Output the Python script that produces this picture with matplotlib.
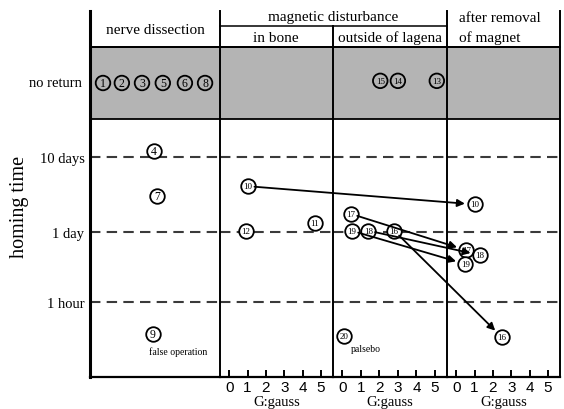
"""
Homing time of birds after nerve dissection / magnetic disturbance.
"""

import numpy as np
import matplotlib
matplotlib.use('Agg')
import matplotlib.pyplot as plt
from matplotlib.patches import ConnectionPatch
from matplotlib.lines import Line2D
from matplotlib.ticker import NullLocator

SERIF = 'Liberation Serif'
SANS = 'Liberation Sans'

# nerve dissection (no gauss scale, x is position inside the panel)
nr_nerve_ids = [1, 2, 3, 5, 6, 8]
nr_nerve_x = [0.10, 0.245, 0.40, 0.56, 0.73, 0.885]
nerve_ids = [4, 7, 9]
nerve_x = [0.49, 0.515, 0.485]
nerve_hours = [290, 72, 0.23]

# magnetic disturbance in bone
bone_ids = [10, 12, 11]
bone_gauss = [1.0, 0.9, 4.65]
bone_hours = [98, 25, 32]

# magnetic disturbance outside of lagena
lagena_ids = [17, 19, 18, 16, 20]
lagena_gauss = [0.45, 0.5, 1.4, 2.8, 0.1]
lagena_hours = [42, 25, 25, 25, 0.21]
nr_lagena_ids = [15, 14, 13]
nr_lagena_gauss = [2.05, 3.0, 5.1]

# after removal of magnet
after_ids = [10, 17, 18, 19, 16]
after_gauss = [1.0, 0.55, 1.3, 0.5, 2.5]
after_hours = [56, 10.5, 8.4, 5.6, 0.2]

time_ticks = [240, 24, 1]
time_labels = ['10 days', '1 day', '1 hour']
gauss_ticks = [0, 1, 2, 3, 4, 5]

LOG_DAY = np.log10(24)


def to_pos(h):
    # piecewise log scale: 1 hour -> 0, 1 day -> 70, 10 days -> 145
    lh = np.log10(np.maximum(h, 1e-9))
    return np.where(lh < LOG_DAY, lh * 70 / LOG_DAY, 70 + (lh - LOG_DAY) * 75)


def from_pos(p):
    p = np.asarray(p, dtype=float)
    lh = np.where(p < 70, p * LOG_DAY / 70, LOG_DAY + (p - 70) / 75)
    return 10 ** lh


W, H = 564, 410


def fx(px):
    return px / W


def fy(py):
    return 1 - py / H


def circled(ax, xs, ys, ids, face):
    ax.scatter(xs, ys, s=110, facecolor=face, edgecolor='black',
               linewidth=1.3, zorder=6, clip_on=False)
    for x, y, n in zip(xs, ys, ids):
        ax.text(x, y, str(n), ha='center', va='center', zorder=7,
                fontsize=8.5 if n < 10 else 6.5, family=SERIF)


fig = plt.figure(figsize=(W / 100, H / 100), dpi=100)

edges = [90, 220, 333, 447, 560]
mains, bands = [], []
for i in range(4):
    l, r = edges[i], edges[i + 1]
    axm = fig.add_axes([fx(l), fy(378), fx(r) - fx(l), (378 - 120) / H])
    axb = fig.add_axes([fx(l), fy(120), fx(r) - fx(l), 72 / H])
    axm.set_yscale('function', functions=(to_pos, from_pos))
    axm.set_ylim(from_pos(-75), from_pos(183))
    axm.yaxis.set_minor_locator(NullLocator())
    axm.set_yticks([])
    axb.set_ylim(0, 1)
    axb.set_facecolor('#b4b4b4')
    axb.set_xticks([])
    axb.set_yticks([])
    for s in ['top', 'left', 'right']:
        axm.spines[s].set_visible(False)
    axm.spines['bottom'].set_linewidth(1.6)
    for s in ['left', 'right']:
        axb.spines[s].set_visible(False)
    axb.spines['top'].set_linewidth(1.3)
    axb.spines['bottom'].set_linewidth(1.3)
    for h in time_ticks:
        axm.axhline(h, color='#3a3a3a', lw=1.5, dashes=(5, 3), zorder=1)
    if i == 0:
        axm.set_xlim(0, 1)
        axb.set_xlim(0, 1)
        axm.set_xticks([])
    else:
        axm.set_xlim(-0.5, 5.65)
        axb.set_xlim(-0.5, 5.65)
        axm.set_xticks(gauss_ticks)
        axm.set_xticklabels([str(g) for g in gauss_ticks], family=SANS)
        axm.tick_params(axis='x', direction='in', length=5, width=1.4,
                        labelsize=11, pad=2)
        axm.set_xlabel('G:gauss', family=SERIF, fontsize=10.5, labelpad=1)
    mains.append(axm)
    bands.append(axb)

ax1, ax2, ax3, ax4 = mains

ax1.set_yticks(time_ticks)
ax1.set_yticklabels(time_labels, family=SERIF, fontsize=10.5)
ax1.tick_params(axis='y', length=0, pad=4)
bands[0].set_yticks([0.53])
bands[0].set_yticklabels(['no return'], family=SERIF, fontsize=10.5)
bands[0].tick_params(axis='y', length=0, pad=6)

# points
circled(bands[0], nr_nerve_x, [0.5] * len(nr_nerve_x), nr_nerve_ids, 'none')
circled(ax1, nerve_x, nerve_hours, nerve_ids, 'white')
circled(ax2, bone_gauss, bone_hours, bone_ids, 'white')
circled(ax3, lagena_gauss, lagena_hours, lagena_ids, 'white')
circled(bands[2], nr_lagena_gauss, [0.53] * len(nr_lagena_gauss),
        nr_lagena_ids, 'none')
circled(ax4, after_gauss, after_hours, after_ids, 'white')

ax1.annotate('false operation', (nerve_x[2], nerve_hours[2]),
             xytext=(18, -12), textcoords='offset points', ha='center',
             va='center', family=SERIF, fontsize=7)
ax3.annotate('palsebo', (lagena_gauss[4], lagena_hours[4]),
             xytext=(5, -9), textcoords='offset points', ha='left',
             va='center', family=SERIF, fontsize=7)

# arrows towards "after removal of magnet"
sources = [(ax2, bone_ids, bone_gauss, bone_hours),
           (ax3, lagena_ids, lagena_gauss, lagena_hours)]
for ax_src, ids, gs, hs in sources:
    for n, g, h in zip(ids, gs, hs):
        if n not in after_ids:
            continue
        k = after_ids.index(n)
        con = ConnectionPatch(xyA=(g, h), coordsA=ax_src.transData,
                              xyB=(after_gauss[k], after_hours[k]),
                              coordsB=ax4.transData, arrowstyle='-|>',
                              mutation_scale=11, shrinkA=5, shrinkB=7,
                              lw=1.3, color='black', zorder=5)
        fig.add_artist(con)

# frame lines of the table
vlines = [(90, 12, 2.2), (220, 12, 1.4), (333, 27, 1.4), (447, 12, 1.4),
          (560, 12, 1.4)]
for x, top, lw in vlines:
    fig.add_artist(Line2D([fx(x), fx(x)], [fy(top), fy(378)], color='black',
                          lw=lw, zorder=10))
fig.add_artist(Line2D([fx(220), fx(447)], [fy(27), fy(27)], color='black',
                      lw=1.1))
fig.add_artist(Line2D([fx(90), fx(560)], [fy(48), fy(48)], color='black',
                      lw=1.3))

# header texts
hdr = dict(family=SERIF, fontsize=11, va='center')
fig.text(fx(155), fy(31), 'nerve dissection', ha='center', **hdr)
fig.text(fx(333), fy(18), 'magnetic disturbance', ha='center', **hdr)
fig.text(fx(276), fy(38), 'in bone', ha='center', **hdr)
fig.text(fx(390), fy(38), 'outside of lagena', ha='center', **hdr)
fig.text(fx(459), fy(19), 'after removal', ha='left', **hdr)
fig.text(fx(459), fy(38), 'of magnet', ha='left', **hdr)
fig.text(fx(20), fy(207), 'homing time', rotation=90, ha='center',
         va='center', family=SERIF, fontsize=14.5)

fig.savefig('out.png', dpi=100)
